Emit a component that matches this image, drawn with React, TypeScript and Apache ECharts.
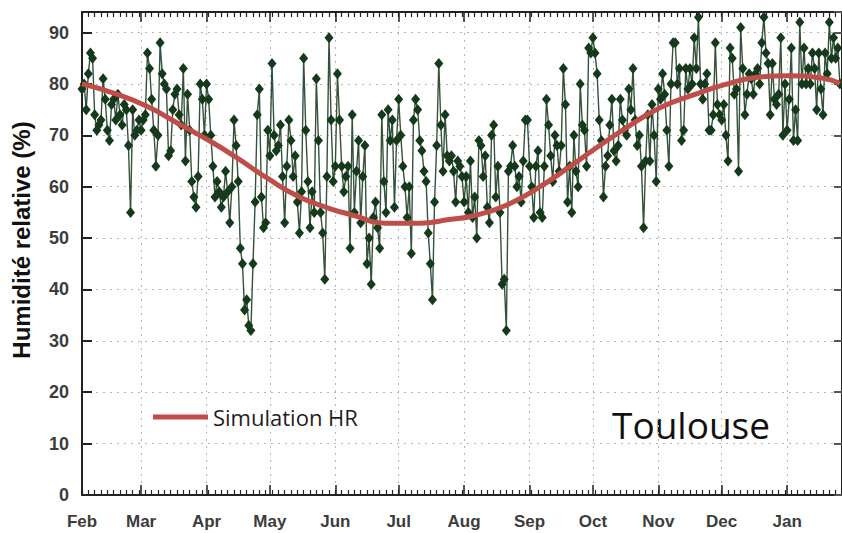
import React, { useEffect, useRef } from "react";
import * as echarts from "echarts";

const monthNames = ["Feb", "Mar", "Apr", "May", "Jun", "Jul", "Aug", "Sep", "Oct", "Nov", "Dec", "Jan"];
const monthLengths = [28, 31, 30, 31, 30, 31, 31, 30, 31, 30, 31, 27];

const hrFeb = [79, 80, 75, 82, 86, 85, 74, 71, 72, 73, 81, 77, 71, 69, 76, 77, 73, 78, 74, 72, 76, 75, 68, 55, 75, 70, 71, 73];
const hrMar = [71, 73, 74, 86, 83, 77, 71, 64, 70, 88, 82, 80, 79, 66, 67, 75, 78, 79, 74, 72, 83, 65, 78, 71, 61, 58, 56, 62, 80, 77, 70];
const hrApr = [80, 77, 70, 64, 58, 61, 59, 56, 58, 63, 59, 53, 60, 73, 68, 61, 48, 45, 36, 38, 33, 32, 45, 57, 74, 79, 58, 52, 53, 71];
const hrMay = [66, 84, 70, 67, 68, 72, 62, 53, 64, 73, 69, 62, 66, 57, 51, 59, 85, 71, 61, 52, 59, 55, 81, 69, 55, 51, 42, 62, 89, 73, 61];
const hrJun = [64, 82, 73, 64, 59, 62, 64, 48, 74, 55, 63, 69, 53, 62, 68, 45, 50, 41, 54, 57, 52, 48, 74, 61, 55, 75, 69, 73, 56, 69];
const hrJul = [77, 70, 64, 60, 54, 60, 47, 73, 77, 75, 69, 67, 63, 61, 51, 45, 38, 57, 68, 84, 72, 63, 74, 66, 65, 66, 63, 57, 65, 64, 62];
const hrAug = [57, 62, 55, 65, 54, 58, 50, 69, 68, 62, 66, 56, 53, 70, 72, 58, 64, 55, 41, 42, 32, 63, 64, 68, 64, 60, 62, 57, 65, 73, 73];
const hrSep = [64, 60, 54, 64, 67, 55, 54, 64, 77, 72, 66, 61, 70, 68, 63, 68, 83, 76, 57, 64, 55, 70, 63, 60, 80, 72, 71, 64, 87, 86];
const hrOct = [89, 86, 82, 73, 69, 58, 64, 66, 72, 77, 67, 65, 68, 77, 73, 71, 70, 79, 75, 83, 73, 68, 70, 64, 52, 65, 74, 65, 76, 70, 61];
const hrNov = [79, 77, 82, 78, 71, 64, 80, 88, 88, 80, 83, 69, 71, 83, 79, 83, 80, 89, 83, 93, 80, 77, 80, 82, 71, 71, 74, 88, 76, 74];
const hrDec = [73, 76, 70, 65, 87, 85, 78, 79, 63, 91, 83, 74, 78, 82, 81, 78, 82, 83, 80, 88, 93, 86, 84, 74, 84, 77, 76, 78, 89, 70, 80];
const hrJan = [71, 77, 87, 69, 75, 69, 92, 80, 87, 80, 83, 80, 86, 83, 75, 86, 79, 74, 86, 82, 92, 85, 89, 85, 87, 80];

// Simulation curve: [day index, value]
const simDays = [0, 15, 31, 46, 61, 72, 88, 103, 117, 128, 144, 160, 174, 185, 201, 217, 231, 242, 258, 274, 290, 304, 320, 334, 351, 359];
const simValues = [80, 78.2, 75.6, 72.2, 68.8, 66, 61.6, 58, 55.8, 54.5, 52.9, 52.9, 53.6, 54.3, 56.4, 60, 63.9, 67.1, 71.5, 75.4, 77.9, 79.8, 81.3, 81.6, 81.1, 80.1];

const yTicks = [0, 10, 20, 30, 40, 50, 60, 70, 80, 90];

export default function App() {
  const ref = useRef<HTMLDivElement>(null);
  useEffect(() => {
    if (!ref.current) return;
    const chart = echarts.init(ref.current, null, { renderer: "svg" });

    const dayCats: string[] = [];
    const monthStarts: number[] = [];
    monthLengths.forEach((len, m) => {
      monthStarts.push(dayCats.length);
      for (let d = 1; d <= len; d++) dayCats.push(monthNames[m] + " " + d);
    });
    const isStart = (i: number) => monthStarts.indexOf(i) >= 0;
    const hr = [].concat(hrFeb, hrMar, hrApr, hrMay, hrJun, hrJul, hrAug, hrSep, hrOct, hrNov, hrDec, hrJan);
    const sim = simDays.map((d, i) => [d, simValues[i]]);

    const axisColor = "#222";
    const gridColor = "#b4b4b4";
    const labelFont = { fontFamily: "Liberation Sans", fontWeight: "bold", color: "#3c3c3c" };

    const majorX = (pos: string) => ({
      type: "category",
      data: dayCats,
      boundaryGap: false,
      position: pos,
      axisLine: { show: true, lineStyle: { color: axisColor, width: 2 } },
      axisTick: { show: true, inside: true, length: 10, interval: (i: number) => isStart(i), lineStyle: { color: axisColor, width: 1.5 } },
      axisLabel: pos === "bottom"
        ? { show: true, interval: (i: number) => isStart(i), formatter: (v: string) => v.split(" ")[0], margin: 18, fontSize: 17, ...labelFont }
        : { show: false },
      splitLine: pos === "bottom"
        ? { show: true, interval: (i: number) => isStart(i) && i > 0, lineStyle: { color: gridColor, width: 1, type: [2, 5] } }
        : { show: false },
    });
    const minorX = (pos: string) => ({
      type: "category",
      data: dayCats,
      boundaryGap: false,
      position: pos,
      axisLine: { show: false },
      axisTick: { show: true, inside: true, length: 5, interval: (i: number) => i % 3 === 0, lineStyle: { color: axisColor, width: 1.2 } },
      axisLabel: { show: false },
      splitLine: { show: false },
    });

    const yBase = {
      type: "value",
      min: 0,
      max: 94,
      interval: 10,
    };

    chart.setOption({
      animation: false,
      backgroundColor: "#ffffff",
      grid: { left: 82, top: 12, width: 761, height: 483, containLabel: false },
      legend: {
        data: [{ name: "Simulation HR", icon: "rect" }],
        left: 153,
        top: 406,
        itemWidth: 55,
        itemHeight: 5,
        padding: 0,
        textStyle: { fontFamily: "Open Sans", fontSize: 22, color: "#1e1e1e" },
      },
      xAxis: [majorX("bottom"), minorX("bottom"), majorX("top"), minorX("top")],
      yAxis: [
        {
          ...yBase,
          position: "left",
          axisLine: { show: true, lineStyle: { color: axisColor, width: 2 } },
          axisTick: { show: true, inside: true, length: 10, lineStyle: { color: axisColor, width: 2 } },
          axisLabel: {
            margin: 13,
            fontSize: 18,
            ...labelFont,
            formatter: (v: number) => (yTicks.indexOf(v) >= 0 ? String(v) : ""),
          },
          splitLine: { show: true, lineStyle: { color: gridColor, width: 1, type: [2, 5] } },
        },
        {
          ...yBase,
          position: "right",
          axisLine: { show: true, lineStyle: { color: axisColor, width: 2 } },
          axisTick: { show: true, inside: true, length: 8, lineStyle: { color: "#555", width: 2 } },
          axisLabel: { show: false },
          splitLine: { show: false },
        },
      ],
      graphic: [
        {
          type: "text",
          x: 21,
          y: 240,
          rotation: Math.PI / 2,
          style: {
            text: "Humidité relative (%)",
            font: "bold 24px 'Liberation Sans', Arial, sans-serif",
            fill: "#111",
            align: "center",
            verticalAlign: "middle",
          },
        },
        {
          type: "text",
          x: 612,
          y: 424,
          style: {
            text: "Toulouse",
            font: "37px 'Open Sans', sans-serif",
            fill: "#111",
            align: "left",
            verticalAlign: "middle",
          },
        },
      ],
      series: [
        {
          name: "HR mesurée",
          type: "line",
          xAxisIndex: 0,
          yAxisIndex: 0,
          data: hr,
          symbol: "diamond",
          symbolSize: [9, 11],
          showAllSymbol: true,
          itemStyle: { color: "#153a1b" },
          lineStyle: { color: "#34513a", width: 1.4 },
          z: 3,
        },
        {
          name: "Simulation HR",
          type: "line",
          xAxisIndex: 0,
          yAxisIndex: 0,
          data: sim,
          smooth: true,
          symbol: "none",
          itemStyle: { color: "#bf4d4a" },
          lineStyle: { color: "#bf4d4a", width: 5 },
          z: 5,
        },
      ],
    });
    return () => chart.dispose();
  }, []);
  return <div ref={ref} style={{ position: "fixed", left: 0, top: 0, width: 842, height: 533 }} />;
}
